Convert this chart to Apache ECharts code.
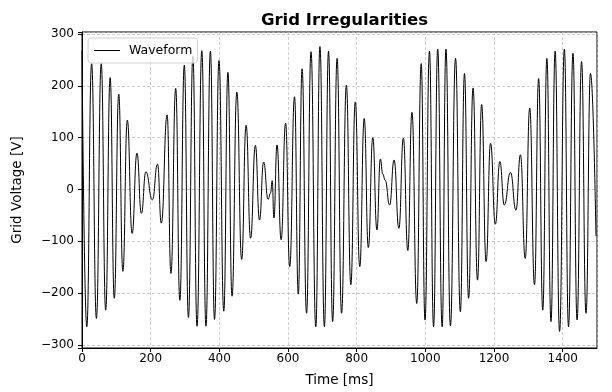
<!DOCTYPE html>
<html>
<head>
<meta charset="utf-8">
<script src="https://cdn.jsdelivr.net/npm/echarts@6/dist/echarts.min.js"></script>
<style>html,body{margin:0;padding:0;background:#fff}#c{width:612px;height:392px}</style>
</head>
<body>
<div id="c"></div>
<script>
// Time [ms] of each local extreme of the waveform
var timesMs = [0,14,28,42,56,69,82,94,107,119,132,146,160,173,186,205,220,231,248,259,
  273,285,298,310,323,335,349,361,374,386,399,413,425,437,451,465,478,491,505,517,
  529,542,549,554,559,568,580,593,605,619,630,641,654,667,681,693,706,718,730,743,
  756,770,783,796,809,822,834,847,859,869,876,883,896,909,923,936,949,961,975,988,
  999,1012,1024,1036,1049,1060,1073,1088,1102,1114,1126,1139,1152,1164,1177,1190,1204,1217,1230,1248,
  1264,1277,1291,1304,1318,1330,1342,1354,1366,1378,1391,1405,1417,1430,1442,1455,1468,1481,1497];
// Grid voltage [V] at those instants
var voltsV = [268,-265,243,-249,243,-233,216,-210,184,-158,134,-85,70,-46,34,-20,49,-65,144,-162,
  195,-214,240,-247,258,-264,268,-264,267,-251,249,-235,226,-206,188,-135,124,-94,85,-59,
  53,-19,-7,17,-55,86,-97,128,-149,179,-202,233,-239,266,-265,276,-265,267,-255,253,
  -239,201,-184,169,-149,137,-112,100,-78,59,30,18,-30,57,-75,99,-118,149,-220,243,
  -252,267,-265,271,-265,271,-263,253,-236,224,-210,196,-175,164,-139,89,-67,54,-30,33,
  -40,67,-133,157,-184,214,-233,253,-255,267,-274,271,-265,263,-252,247,-239,224,-90];
var xTicks = [0,200,400,600,800,1000,1200,1400];
var yTicks = [-300,-200,-100,0,100,200,300];

var data = timesMs.map(function(t,i){return [t, voltsV[i]];});
function fmt(v){ if (yTicks.indexOf(v) < 0 && xTicks.indexOf(v) < 0) return ''; return v < 0 ? '\u2212' + Math.abs(v) : String(v); }

var font = 'DejaVu Sans';
var chart = echarts.init(document.getElementById('c'), null, {renderer:'canvas'});
chart.setOption({
  animation: false,
  backgroundColor: '#fff',
  title: {
    text: 'Grid Irregularities', left: 339.5, top: 7, textAlign: 'center',
    textStyle: {fontFamily: font, fontWeight: 'bold', fontSize: 16.5, color: '#000'}
  },
  legend: {
    show: true, left: 88, top: 38, orient: 'vertical',
    data: [{name: 'Waveform', icon: 'path://M0,0 L30,0 L30,1.2 L0,1.2 Z'}],
    itemWidth: 26, itemHeight: 1.2, itemGap: 0,
    padding: [6, 5, 6, 6],
    borderColor: '#d0d0d0', borderWidth: 1, borderRadius: 3,
    backgroundColor: 'rgba(255,255,255,0.8)',
    textStyle: {fontFamily: font, fontSize: 12.5, color: '#000', padding: [0,0,0,4]}
  },
  grid: {left: 82, right: 15, top: 32, bottom: 44, show: true, borderColor: '#000', borderWidth: 1, backgroundColor: 'transparent'},
  xAxis: {
    type: 'value', min: 0, max: 1500, interval: 200,
    name: 'Time [ms]', nameLocation: 'middle', nameGap: 25,
    nameTextStyle: {fontFamily: font, fontSize: 13.5, color: '#000'},
    axisLine: {show: true, onZero: false, lineStyle: {color: '#000', width: 1}},
    axisTick: {show: true, inside: false, length: 4, lineStyle: {color: '#000'}},
    axisLabel: {fontFamily: font, fontSize: 12, color: '#000', margin: 5, formatter: fmt, showMaxLabel: false},
    splitLine: {show: true, lineStyle: {color: '#b8b8b8', type: [3, 2], width: 0.7}}
  },
  yAxis: {
    type: 'value', min: -306, max: 304,
    name: 'Grid Voltage [V]', nameLocation: 'middle', nameGap: 58, nameRotate: 90,
    nameTextStyle: {fontFamily: font, fontSize: 13.5, color: '#000'},
    axisLine: {show: true, onZero: false, lineStyle: {color: '#000', width: 1}},
    axisTick: {show: true, inside: false, length: 4, lineStyle: {color: '#000'}},
    axisLabel: {fontFamily: font, fontSize: 12, color: '#000', margin: 8, formatter: fmt},
    splitLine: {show: true, lineStyle: {color: '#b8b8b8', type: [3, 2], width: 0.7}}
  },
  series: [{
    name: 'Waveform', type: 'line', data: data,
    showSymbol: false, smooth: 0.5, smoothMonotone: 'x',
    lineStyle: {color: '#000', width: 1},
    itemStyle: {color: '#000'}
  }]
});
</script>
</body>
</html>
